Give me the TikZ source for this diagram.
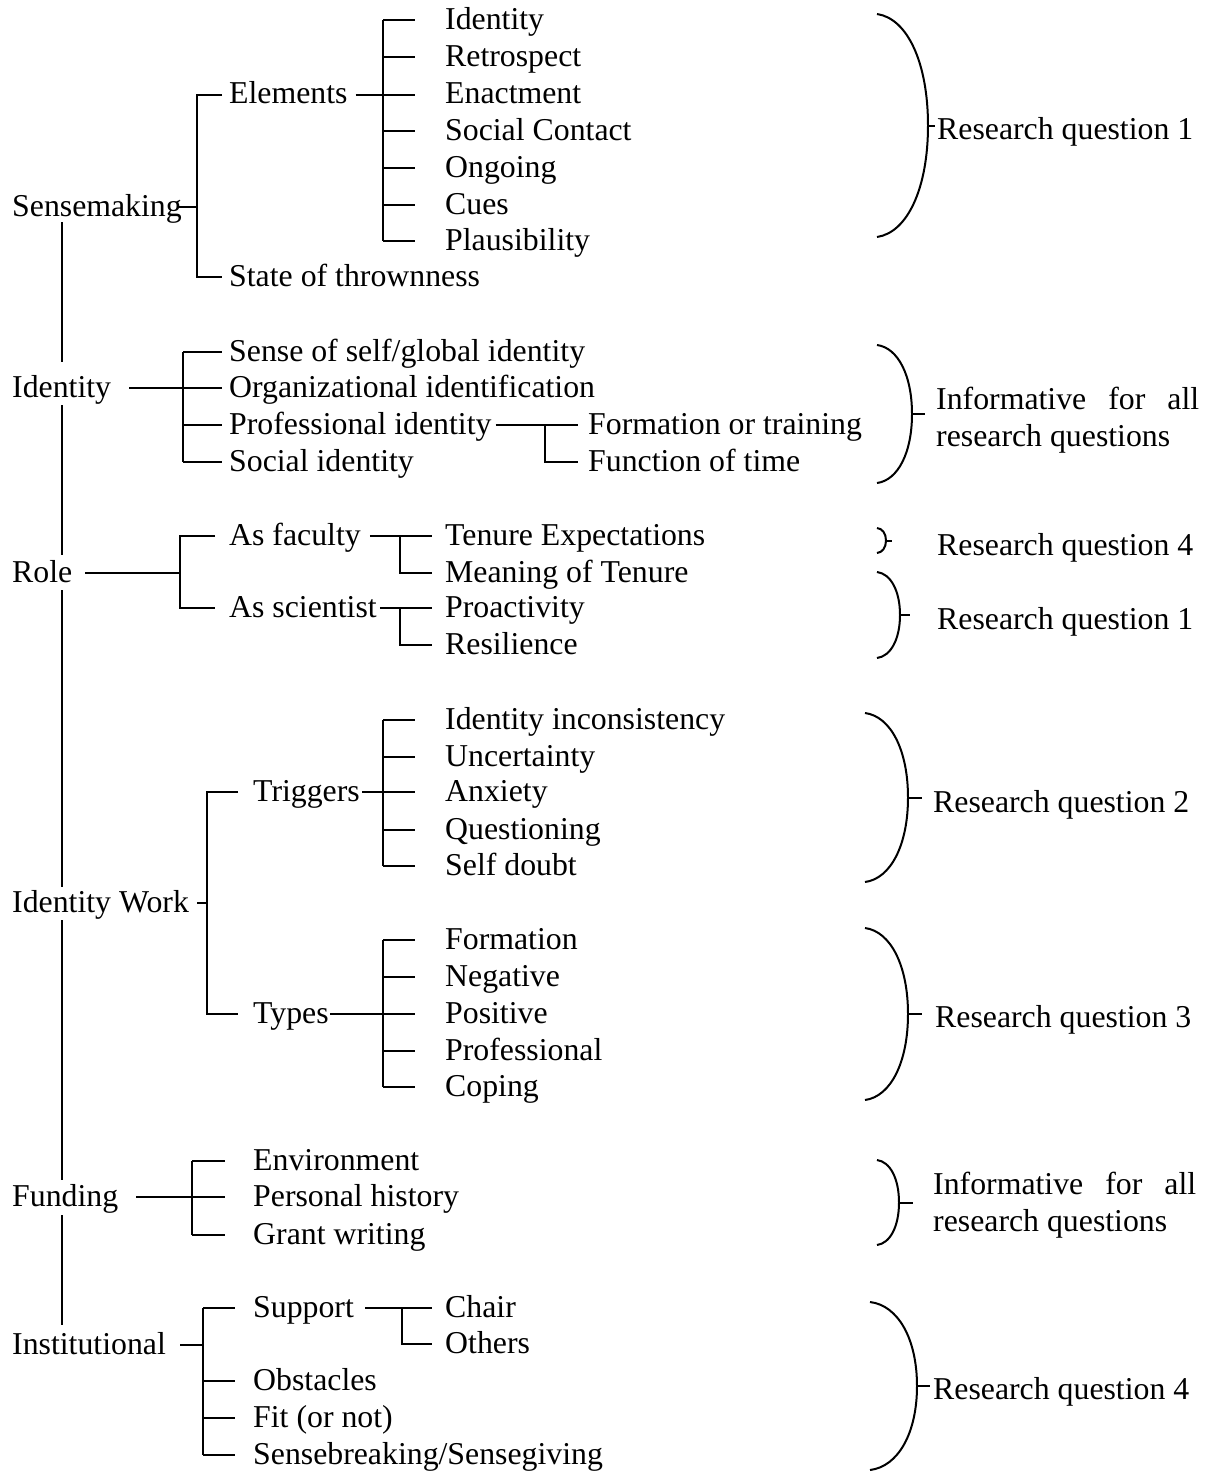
\documentclass[tikz,border=0pt]{standalone}
\usepackage{fontspec}
\setmainfont{Liberation Serif}
\usetikzlibrary{calc}

\tikzset{
  lbl/.style={anchor=west, inner sep=0pt, text height=20pt, text depth=2pt,
              font=\fontsize{31.8pt}{37pt}\selectfont},
  tree/.style={line width=2pt, line cap=butt},
  pics/rqbrace/.style n args={2}{code={
    % right-hand parenthesis hanging down from the pic origin:
    % #1 = height, #2 = how far it bulges to the right
    \draw[tree] (0,0) .. controls (0.6*#2,0.02*#1) and (#2,0.22*#1) .. (#2,0.5*#1)
                      .. controls (#2,0.78*#1) and (0.6*#2,0.98*#1) .. (0,#1);
    \coordinate (-tip) at (#2,0.5*#1);
  }},
}

\begin{document}
\begin{tikzpicture}[x=1pt, y=-1pt]
\path[use as bounding box] (0,0) rectangle (1207,1476);

% ---------- main concepts ----------
\node[lbl] (sm) at (12,207)  {Sensemaking};
\node[lbl] (id) at (12,388)  {Identity};
\node[lbl] (ro) at (12,573)  {Role};
\node[lbl] (iw) at (12,903)  {Identity Work};
\node[lbl] (fu) at (12,1197) {Funding};
\node[lbl] (it) at (12,1345) {Institutional};

\coordinate (mx) at (62,0);
\draw[tree] ($(sm.south -| mx)+(0,4)$) -- ($(id.north -| mx)+(0,-15)$);
\draw[tree] ($(id.south -| mx)+(0,6)$) -- ($(ro.north -| mx)+(0,-7)$);
\draw[tree] ($(ro.south -| mx)+(0,6)$) -- ($(iw.north -| mx)+(0,-5)$);
\draw[tree] ($(iw.south -| mx)+(0,6)$) -- ($(fu.north -| mx)+(0,-6)$);
\draw[tree] ($(fu.south -| mx)+(0,7)$) -- ($(it.north -| mx)+(0,-9)$);

% ---------- Sensemaking ----------
\node[lbl] (el) at (229,94.5) {Elements};
\node[lbl] (st) at (229,277)  {State of thrownness};
\coordinate (j1) at (197,0);
\draw[tree] ($(el.west)+(-7,0)$) -- (j1 |- el) -- (j1 |- st) -- ($(st.west)+(-7,0)$);
\draw[tree] ($(sm.east)+(-5,0)$) -- (j1 |- sm);

\node[lbl] (e1) at (445,20)  {Identity};
\node[lbl] (e2) at (445,57)  {Retrospect};
\node[lbl] (e3) at (445,94.5){Enactment};
\node[lbl] (e4) at (445,131) {Social Contact};
\node[lbl] (e5) at (445,168) {Ongoing};
\node[lbl] (e6) at (445,205) {Cues};
\node[lbl] (e7) at (445,241) {Plausibility};
\coordinate (j2) at (383,0);
\draw[tree] (j2 |- e1) -- (j2 |- e7);
\foreach \n in {e1,e2,e3,e4,e5,e6,e7}
  \draw[tree] (j2 |- \n) -- ($(\n.west)+(-30,0)$);
\draw[tree] ($(el.east)+(8,0)$) -- (j2 |- el);

% ---------- Identity ----------
\node[lbl] (i1) at (229,352) {Sense of self/global identity};
\node[lbl] (i2) at (229,388) {Organizational identification};
\node[lbl] (i3) at (229,425) {Professional identity};
\node[lbl] (i4) at (229,462) {Social identity};
\coordinate (j3) at (183,0);
\draw[tree] (j3 |- i1) -- (j3 |- i4);
\foreach \n in {i1,i2,i3,i4}
  \draw[tree] (j3 |- \n) -- ($(\n.west)+(-7,0)$);
\draw[tree] ($(id.east)+(18,0)$) -- (j3 |- id);

\node[lbl] (p1) at (588,425) {Formation or training};
\node[lbl] (p2) at (588,462) {Function of time};
\coordinate (j4) at (545,0);
\draw[tree] ($(i3.east)+(4,0)$) -- ($(p1.west)+(-10,0)$);
\draw[tree] (j4 |- p1) -- (j4 |- p2) -- ($(p2.west)+(-10,0)$);

% ---------- Role ----------
\node[lbl] (r1) at (229,536) {As faculty};
\node[lbl] (r2) at (229,608) {As scientist};
\coordinate (j5) at (180,0);
\draw[tree] ($(r1.west)+(-14,0)$) -- (j5 |- r1) -- (j5 |- r2) -- ($(r2.west)+(-14,0)$);
\draw[tree] ($(ro.east)+(13,0)$) -- (j5 |- ro);

\node[lbl] (f1) at (445,536) {Tenure Expectations};
\node[lbl] (f2) at (445,573) {Meaning of Tenure};
\node[lbl] (s1) at (445,608) {Proactivity};
\node[lbl] (s2) at (445,645) {Resilience};
\coordinate (j6) at (400,0);
\draw[tree] ($(r1.east)+(9,0)$) -- ($(f1.west)+(-13,0)$);
\draw[tree] (j6 |- f1) -- (j6 |- f2) -- ($(f2.west)+(-13,0)$);
\draw[tree] ($(r2.east)+(3,0)$) -- ($(s1.west)+(-13,0)$);
\draw[tree] (j6 |- s1) -- (j6 |- s2) -- ($(s2.west)+(-13,0)$);

% ---------- Identity Work ----------
\node[lbl] (tg) at (253,792)  {Triggers};
\node[lbl] (ty) at (253,1014) {Types};
\coordinate (j8) at (207,0);
\draw[tree] ($(tg.west)+(-15,0)$) -- (j8 |- tg) -- (j8 |- ty) -- ($(ty.west)+(-15,0)$);
\draw[tree] ($(iw.east)+(8,0)$) -- (j8 |- iw);

\node[lbl] (t1) at (445,720) {Identity inconsistency};
\node[lbl] (t2) at (445,757) {Uncertainty};
\node[lbl] (t3) at (445,792) {Anxiety};
\node[lbl] (t4) at (445,830) {Questioning};
\node[lbl] (t5) at (445,866) {Self doubt};
\node[lbl] (y1) at (445,940)  {Formation};
\node[lbl] (y2) at (445,977)  {Negative};
\node[lbl] (y3) at (445,1014) {Positive};
\node[lbl] (y4) at (445,1051) {Professional};
\node[lbl] (y5) at (445,1087) {Coping};
\coordinate (j9) at (383,0);
\draw[tree] (j9 |- t1) -- (j9 |- t5);
\draw[tree] (j9 |- y1) -- (j9 |- y5);
\foreach \n in {t1,t2,t3,t4,t5,y1,y2,y3,y4,y5}
  \draw[tree] (j9 |- \n) -- ($(\n.west)+(-30,0)$);
\draw[tree] ($(tg.east)+(2,0)$) -- (j9 |- tg);
\draw[tree] ($(ty.east)+(1,0)$) -- (j9 |- ty);

% ---------- Funding ----------
\node[lbl] (u1) at (253,1161) {Environment};
\node[lbl] (u2) at (253,1197) {Personal history};
\node[lbl] (u3) at (253,1235) {Grant writing};
\coordinate (j10) at (192,0);
\draw[tree] (j10 |- u1) -- (j10 |- u3);
\foreach \n in {u1,u2,u3}
  \draw[tree] (j10 |- \n) -- ($(\n.west)+(-28,0)$);
\draw[tree] ($(fu.east)+(18,0)$) -- (j10 |- fu);

% ---------- Institutional ----------
\node[lbl] (n1) at (253,1308) {Support};
\node[lbl] (n2) at (253,1381) {Obstacles};
\node[lbl] (n3) at (253,1418) {Fit (or not)};
\node[lbl] (n4) at (253,1455) {Sensebreaking/Sensegiving};
\coordinate (j11) at (203,0);
\draw[tree] (j11 |- n1) -- (j11 |- n4);
\foreach \n in {n1,n2,n3,n4}
  \draw[tree] (j11 |- \n) -- ($(\n.west)+(-18,0)$);
\draw[tree] ($(it.east)+(14,0)$) -- (j11 |- it);

\node[lbl] (c1) at (445,1308) {Chair};
\node[lbl] (c2) at (445,1344) {Others};
\coordinate (j12) at (402,0);
\draw[tree] ($(n1.east)+(11,0)$) -- ($(c1.west)+(-13,0)$);
\draw[tree] (j12 |- c1) -- (j12 |- c2) -- ($(c2.west)+(-13,0)$);

% ---------- research questions ----------
\node[lbl] (q1) at (937,130)  {Research question 1};
\node[lbl] (q2a) at (936,400) {\makebox[263pt][s]{Informative for all}};
\node[lbl] (q2b) at (936,437) {research questions};
\node[lbl] (q3) at (937,546)  {Research question 4};
\node[lbl] (q4) at (937,620)  {Research question 1};
\node[lbl] (q5) at (933,803)  {Research question 2};
\node[lbl] (q6) at (935,1018) {Research question 3};
\node[lbl] (q7a) at (933,1185) {\makebox[263pt][s]{Informative for all}};
\node[lbl] (q7b) at (933,1222) {research questions};
\node[lbl] (q8) at (933,1390) {Research question 4};

\pic (b1) at (877,14)   {rqbrace={223}{51}};
\pic (b2) at (877,345)  {rqbrace={138}{35}};
\pic (b3) at (877,528)  {rqbrace={25}{9}};
\pic (b4) at (877,572)  {rqbrace={86}{23}};
\pic (b5) at (865,713)  {rqbrace={169}{43}};
\pic (b6) at (865,928)  {rqbrace={172}{43}};
\pic (b7) at (877,1160) {rqbrace={85}{22}};
\pic (b8) at (870,1302) {rqbrace={168}{47}};

\draw[tree] (b1-tip) -- ($(b1-tip -| q1.west)+(-2,0)$);
\draw[tree] (b2-tip) -- ($(b2-tip -| q2a.west)+(-11,0)$);
\draw[tree] (b3-tip) -- ($(b3-tip -| q3.west)+(-45,0)$);
\draw[tree] (b4-tip) -- ($(b4-tip -| q4.west)+(-27,0)$);
\draw[tree] (b5-tip) -- ($(b5-tip -| q5.west)+(-11,0)$);
\draw[tree] (b6-tip) -- ($(b6-tip -| q6.west)+(-13,0)$);
\draw[tree] (b7-tip) -- ($(b7-tip -| q7a.west)+(-20,0)$);
\draw[tree] (b8-tip) -- ($(b8-tip -| q8.west)+(-3,0)$);
\end{tikzpicture}
\end{document}
